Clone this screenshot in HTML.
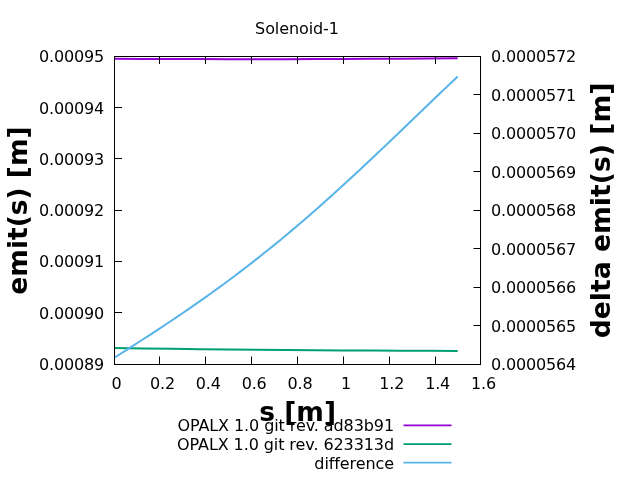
<!DOCTYPE html>
<html lang="en"><head><meta charset="utf-8"><title>Solenoid-1</title>
<style>html,body{margin:0;padding:0;background:#fff;overflow:hidden}svg{display:block}text{font-family:"DejaVu Sans","Liberation Sans",sans-serif;fill:#000}.t{font-size:16px;letter-spacing:-0.18px}.l{letter-spacing:-0.09px}.b{font-size:26.5px;font-weight:bold}</style></head><body>
<svg width="640" height="480" viewBox="0 0 640 480">
<rect width="640" height="480" fill="#fff"/>
<text class="t l" x="297" y="34" text-anchor="middle">Solenoid-1</text>
<polyline points="114.50,58.70 143.10,58.88 171.70,59.02 200.30,59.11 228.90,59.17 257.50,59.19 286.10,59.17 314.70,59.11 343.30,59.01 371.90,58.86 400.50,58.68 429.10,58.46 457.70,58.20" fill="none" stroke="#9400d3" stroke-width="2" stroke-linejoin="round"/>
<polyline points="114.50,348.00 143.10,348.41 171.70,348.79 200.30,349.14 228.90,349.46 257.50,349.75 286.10,350.00 314.70,350.23 343.30,350.43 371.90,350.59 400.50,350.72 429.10,350.83 457.70,350.90" fill="none" stroke="#009e73" stroke-width="2" stroke-linejoin="round"/>
<polyline points="114.50,357.65 120.22,353.99 125.94,350.33 131.66,346.65 137.38,342.97 143.10,339.28 148.82,335.56 154.54,331.83 160.26,328.07 165.98,324.29 171.70,320.47 177.42,316.63 183.14,312.75 188.86,308.83 194.58,304.88 200.30,300.88 206.02,296.85 211.74,292.76 217.46,288.63 223.18,284.46 228.90,280.24 234.62,275.96 240.34,271.64 246.06,267.26 251.78,262.84 257.50,258.36 263.22,253.82 268.94,249.24 274.66,244.60 280.38,239.91 286.10,235.17 291.82,230.38 297.54,225.53 303.26,220.64 308.98,215.69 314.70,210.70 320.42,205.66 326.14,200.58 331.86,195.45 337.58,190.27 343.30,185.06 349.02,179.81 354.74,174.53 360.46,169.21 366.18,163.85 371.90,158.47 377.62,153.07 383.34,147.64 389.06,142.19 394.78,136.72 400.50,131.24 406.22,125.76 411.94,120.26 417.66,114.76 423.38,109.27 429.10,103.78 434.82,98.31 440.54,92.84 446.26,87.40 451.98,81.98 457.70,76.59" fill="none" stroke="#56b4e9" stroke-width="2" stroke-linejoin="round"/>
<path d="M159.5 364.5v-8M159.5 56.5v7.5M205.5 364.5v-8M205.5 56.5v7.5M251.5 364.5v-8M251.5 56.5v7.5M297.5 364.5v-8M297.5 56.5v7.5M343.5 364.5v-8M343.5 56.5v7.5M389.5 364.5v-8M389.5 56.5v7.5M435.5 364.5v-8M435.5 56.5v7.5M114.5 312.5h7.5M114.5 261.5h7.5M114.5 210.5h7.5M114.5 158.5h7.5M114.5 107.5h7.5M480.5 325.5h-7M480.5 287.5h-7M480.5 248.5h-7M480.5 210.5h-7M480.5 171.5h-7M480.5 133.5h-7M480.5 94.5h-7" stroke="#000" stroke-width="1" fill="none"/>
<rect x="114.5" y="56.5" width="366.0" height="308.0" fill="none" stroke="#000" stroke-width="1"/>
<text class="t" x="116.60" y="388.5" text-anchor="middle">0</text>
<text class="t" x="162.46" y="388.5" text-anchor="middle">0.2</text>
<text class="t" x="208.32" y="388.5" text-anchor="middle">0.4</text>
<text class="t" x="254.18" y="388.5" text-anchor="middle">0.6</text>
<text class="t" x="300.04" y="388.5" text-anchor="middle">0.8</text>
<text class="t" x="345.90" y="388.5" text-anchor="middle">1</text>
<text class="t" x="391.76" y="388.5" text-anchor="middle">1.2</text>
<text class="t" x="437.62" y="388.5" text-anchor="middle">1.4</text>
<text class="t" x="483.48" y="388.5" text-anchor="middle">1.6</text>
<text class="t" x="104" y="370.00" text-anchor="end">0.00089</text>
<text class="t" x="104" y="319.00" text-anchor="end">0.00090</text>
<text class="t" x="104" y="267.00" text-anchor="end">0.00091</text>
<text class="t" x="104" y="216.00" text-anchor="end">0.00092</text>
<text class="t" x="104" y="165.00" text-anchor="end">0.00093</text>
<text class="t" x="104" y="114.00" text-anchor="end">0.00094</text>
<text class="t" x="104" y="62.00" text-anchor="end">0.00095</text>
<text class="t" x="491" y="370.00">0.0000564</text>
<text class="t" x="491" y="332.00">0.0000565</text>
<text class="t" x="491" y="293.00">0.0000566</text>
<text class="t" x="491" y="255.00">0.0000567</text>
<text class="t" x="491" y="216.00">0.0000568</text>
<text class="t" x="491" y="178.00">0.0000569</text>
<text class="t" x="491" y="139.00">0.0000570</text>
<text class="t" x="491" y="101.00">0.0000571</text>
<text class="t" x="491" y="62.00">0.0000572</text>
<text class="b" x="297.6" y="420.8" text-anchor="middle">s [m]</text>
<text class="b" transform="translate(27.1,210.5) rotate(-90)" text-anchor="middle">emit(s) [m]</text>
<text class="b" style="font-size:26.66px" transform="translate(610,210.5) rotate(-90)" text-anchor="middle">delta emit(s) [m]</text>
<text class="t l" x="394" y="431.00" text-anchor="end">OPALX 1.0 git rev. ad83b91</text>
<path d="M403.5 425.30H451.5" stroke="#9400d3" stroke-width="1.8" fill="none"/>
<text class="t l" x="394" y="450.00" text-anchor="end">OPALX 1.0 git rev. 623313d</text>
<path d="M403.5 444.20H451.5" stroke="#009e73" stroke-width="1.8" fill="none"/>
<text class="t l" x="394" y="469.00" text-anchor="end">difference</text>
<path d="M403.5 462.60H451.5" stroke="#56b4e9" stroke-width="1.8" fill="none"/>
</svg></body></html>
